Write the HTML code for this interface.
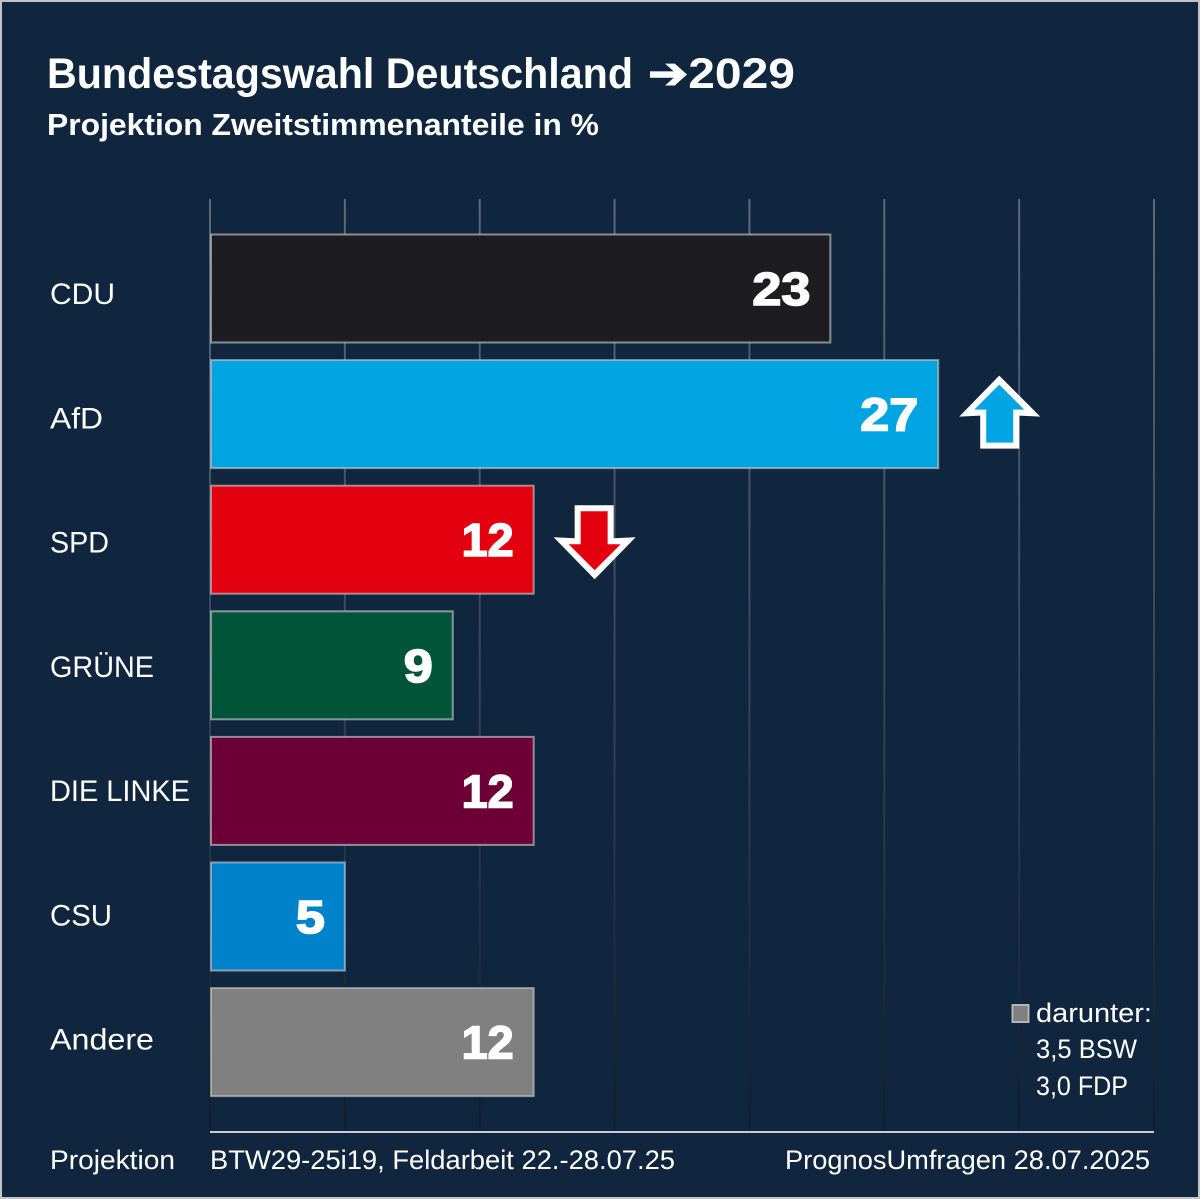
<!DOCTYPE html>
<html lang="de">
<head>
<meta charset="utf-8">
<title>Bundestagswahl Deutschland 2029</title>
<style>
html,body{margin:0;padding:0;background:#10263f;}
svg{display:block;font-family:"Liberation Sans",sans-serif;}
</style>
</head>
<body>
<svg id="chart" xmlns="http://www.w3.org/2000/svg" width="1200" height="1199" viewBox="0 0 1200 1199">
  <defs>
    <linearGradient id="gridFade" gradientUnits="userSpaceOnUse" x1="0" y1="199" x2="0" y2="1131">
      <stop offset="0" stop-color="#5b6a7c"/>
      <stop offset="0.5" stop-color="#36465a"/>
      <stop offset="1" stop-color="#0f1d2d"/>
    </linearGradient>
  </defs>
  <rect x="1" y="1" width="1198" height="1197" fill="#10263f" stroke="#c4c4c4" stroke-width="2"/>
  <g>
    <text x="47" y="88" font-size="43" font-weight="700" fill="#fff" textLength="586" lengthAdjust="spacingAndGlyphs">Bundestagswahl Deutschland</text>
    <text x="648" y="88" font-size="43" font-weight="700" fill="#fff" textLength="147" lengthAdjust="spacingAndGlyphs">➔2029</text>
  </g>
  <text x="47" y="135" font-size="31" font-weight="700" fill="#fff" textLength="552" lengthAdjust="spacingAndGlyphs">Projektion Zweitstimmenanteile in %</text>
  <g id="grid"></g>
  <g id="bars"></g>
  <g id="labels"></g>
  <g id="arrows"></g>
  <line x1="210" y1="1132" x2="1154" y2="1132" stroke="#c9ccd0" stroke-width="2"/>
  <rect x="1012.5" y="1005" width="16" height="17" fill="#808080" stroke="#b5b5b5" stroke-width="2"/>
  <text x="1036" y="1022" font-size="27" fill="#fff" textLength="116" lengthAdjust="spacingAndGlyphs">darunter:</text>
  <text x="1036" y="1058" font-size="27" fill="#fff" textLength="101" lengthAdjust="spacingAndGlyphs">3,5 BSW</text>
  <text x="1036" y="1095" font-size="27" fill="#fff" textLength="92" lengthAdjust="spacingAndGlyphs">3,0 FDP</text>
  <text x="50" y="1169" font-size="27" fill="#fff" textLength="125" lengthAdjust="spacingAndGlyphs">Projektion</text>
  <text x="210" y="1169" font-size="27" fill="#fff" textLength="465" lengthAdjust="spacingAndGlyphs">BTW29-25i19, Feldarbeit 22.-28.07.25</text>
  <text x="785" y="1169" font-size="27" fill="#fff" textLength="365" lengthAdjust="spacingAndGlyphs">PrognosUmfragen 28.07.2025</text>
</svg>
<script>
const parties = ['CDU', 'AfD', 'SPD', 'GRÜNE', 'DIE LINKE', 'CSU', 'Andere'];
const shares = [23, 27, 12, 9, 12, 5, 12];
const trends = [0, 1, -1, 0, 0, 0, 0];
const gridTicks = [0, 5, 10, 15, 20, 25, 30, 35];
const partyColors = ['#1d1c20', '#00a4e3', '#e3000f', '#005538', '#6c0036', '#0082ca', '#808080'];

const NS = 'http://www.w3.org/2000/svg';
const xScale = function (v) { return 210 + v * (944 / 35); };
const barTop = function (i) { return 234 + i * 125.6; };
const labelBaseline = function (i) { return 304 + i * 124.25; };
const BAR_HEIGHT = 110;
const labelFit = { 'CDU': 65, 'AfD': 53, 'SPD': 59, 'GRÜNE': 104, 'DIE LINKE': 140, 'CSU': 62, 'Andere': 104 };

function make(tag, attrs, parent) {
  const el = document.createElementNS(NS, tag);
  Object.keys(attrs).forEach(function (k) { el.setAttribute(k, attrs[k]); });
  parent.appendChild(el);
  return el;
}

function valueWidth(v) {
  return String(v).split('').reduce(function (sum, d) { return sum + (d === '1' ? 23 : 29); }, 0);
}

const gridGroup = document.getElementById('grid');
gridTicks.forEach(function (t) {
  const x = xScale(t);
  const line = make('rect', { x: x - 1, y: 199, width: 2, height: 932, fill: 'url(#gridFade)' }, gridGroup);
  
  
});

const barGroup = document.getElementById('bars');
const labelGroup = document.getElementById('labels');
const arrowGroup = document.getElementById('arrows');

parties.forEach(function (party, i) {
  const end = xScale(shares[i]);
  const top = barTop(i);
  const bar = make('rect', {
    x: 211, y: top + 0.5, width: end - 211, height: BAR_HEIGHT - 2,
    fill: partyColors[i], stroke: '#c8c8c8', 'stroke-opacity': 0.65, 'stroke-width': 2
  }, barGroup);
  
  

  const value = make('text', {
    x: end - 20, y: top + 71, 'text-anchor': 'end', 'font-size': 46, 'font-weight': 700,
    fill: '#fff', stroke: '#fff', 'stroke-width': 1.6,
    textLength: valueWidth(shares[i]), lengthAdjust: 'spacingAndGlyphs'
  }, barGroup);
  value.textContent = shares[i];
  
  

  const label = make('text', {
    x: 50, y: labelBaseline(i), 'font-size': 30, fill: '#fff',
    textLength: labelFit[party], lengthAdjust: 'spacingAndGlyphs'
  }, labelGroup);
  label.textContent = party;
  
  

  if (trends[i] !== 0) {
    const cx = end + 61;
    const up = trends[i] > 0;
    const base = up ? 376 - 360 : 505 - 485;
    const y0 = top + base;
    const outer = up
      ? [[0,0],[41,41],[20,40],[20,73],[-19,73],[-19,40],[-40,41]]
      : [[-20,0],[19,0],[19,33],[41,32],[0,74],[-41,32],[-20,33]];
    const inner = up
      ? [[0,9],[25,34],[14,34],[14,67],[-13,67],[-13,34],[-25,34]]
      : [[-14,6],[13,6],[13,39],[26,39],[0,65],[-26,39],[-14,39]];
    const toPts = function (shape) {
      return shape.map(function (p) { return (cx + p[0]) + ',' + (y0 + p[1]); }).join(' ');
    };
    const arrow = make('g', {}, arrowGroup);
    
    
    make('polygon', { points: toPts(outer), fill: '#fff' }, arrow);
    make('polygon', { points: toPts(inner), fill: partyColors[i] }, arrow);
  }
});
</script>
</body>
</html>
